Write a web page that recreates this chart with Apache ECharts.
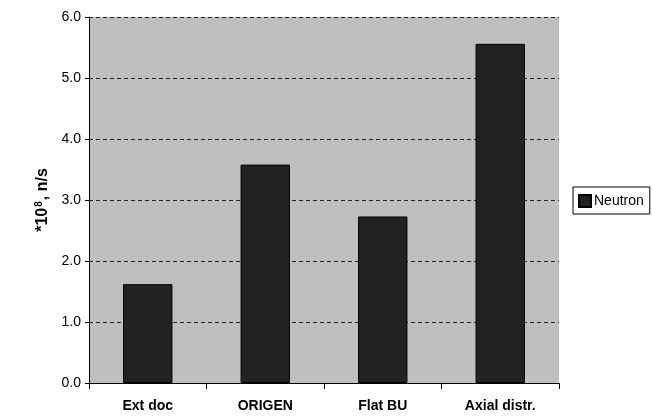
<!DOCTYPE html>
<html>
<head>
<meta charset="utf-8">
<script src="https://cdn.jsdelivr.net/npm/echarts@6/dist/echarts.min.js"></script>
<style>
html,body{margin:0;padding:0;background:#fff;}
#c{width:653px;height:417px;}
</style>
</head>
<body>
<div id="c"></div>
<script>
var categories = ['Ext doc', 'ORIGEN', 'Flat BU', 'Axial distr.'];
var neutron = [1.62, 3.58, 2.73, 5.56];
var yTicks = [0, 1, 2, 3, 4, 5, 6];

var chart = echarts.init(document.getElementById('c'));
chart.setOption({
  animation: false,
  backgroundColor: '#ffffff',
  textStyle: { fontFamily: 'Liberation Sans, Arial, sans-serif' },
  grid: {
    left: 89, top: 17, width: 470, height: 366,
    show: true, backgroundColor: '#bfbfbf', borderWidth: 0
  },
  legend: {
    orient: 'vertical',
    left: 573, top: 187,
    padding: [7, 6, 6, 5],
    itemWidth: 12, itemHeight: 12, itemGap: 4,
    borderColor: '#000', borderWidth: 1,
    textStyle: { fontSize: 14, color: '#000', fontFamily: 'Liberation Sans, Arial, sans-serif', padding: [0, 0, 0, -2] },
    data: [{ name: 'Neutron', icon: 'rect' }]
  },
  xAxis: {
    type: 'category',
    data: categories,
    axisLine: { lineStyle: { color: '#000', width: 1 } },
    axisTick: { show: true, inside: false, length: 6, lineStyle: { color: '#000' } },
    axisLabel: { fontWeight: 'bold', fontSize: 14, color: '#000', margin: 16 },
    splitLine: { show: false }
  },
  yAxis: {
    type: 'value',
    min: 0, max: 6, interval: 1,
    name: '*10{sup|8}, n/s',
    nameLocation: 'middle',
    nameGap: 38,
    nameRotate: 90,
    nameTextStyle: {
      fontWeight: 'bold', fontSize: 16, color: '#000',
      rich: { sup: { fontWeight: 'bold', fontSize: 10, color: '#000', verticalAlign: 'top', padding: [0, 1, 7, 1] } }
    },
    axisLine: { show: true, lineStyle: { color: '#000', width: 1 } },
    axisTick: { show: true, length: 4, lineStyle: { color: '#000' } },
    axisLabel: {
      fontSize: 14, color: '#000', margin: 8,
      formatter: function (v) { return yTicks.indexOf(v) >= 0 ? v.toFixed(1) : ''; }
    },
    splitLine: { show: true, lineStyle: { color: '#222', type: [4, 3], width: 1 } }
  },
  series: [{
    name: 'Neutron',
    type: 'bar',
    data: neutron,
    barWidth: '42%',
    itemStyle: { color: '#222222', borderColor: '#000', borderWidth: 1 }
  }]
});
</script>
</body>
</html>
